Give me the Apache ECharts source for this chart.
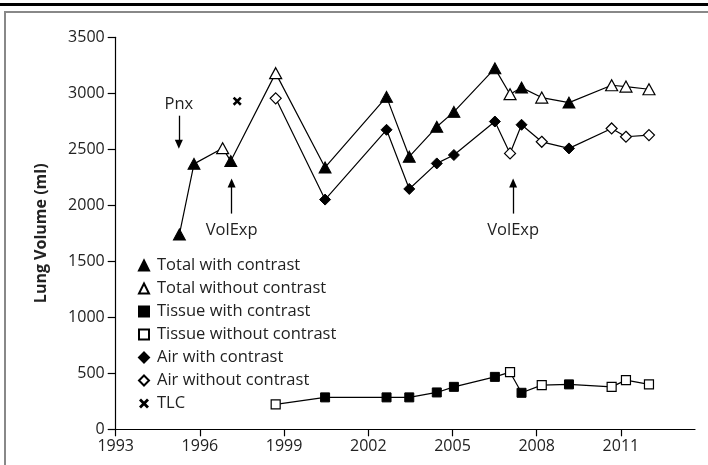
<!DOCTYPE html>
<html>
<head>
<meta charset="utf-8">
<script src="https://cdn.jsdelivr.net/npm/echarts@6/dist/echarts.min.js"></script>
<style>
  html, body { margin: 0; padding: 0; background: #fff; }
  #chart { width: 708px; height: 465px; }
</style>
</head>
<body>
<div id="chart"></div>
<script>
// scan dates (decimal years) and whether contrast was given
var years    = [1995.27, 1995.79, 1996.81, 1997.10, 1998.70, 2000.46, 2002.65, 2003.46, 2004.44, 2005.05, 2006.51, 2007.05, 2007.46, 2008.18, 2009.15, 2010.67, 2011.18, 2012.00];
var contrast = [1, 1, 0, 1, 0, 1, 1, 1, 1, 1, 1, 0, 1, 0, 1, 0, 0, 0];
var total    = [1740, 2370, 2510, 2395, 3180, 2338, 2968, 2434, 2701, 2834, 3223, 2992, 3051, 2962, 2917, 3072, 3060, 3036];
var tissue   = [null, null, null, null, 223, 285, 285, 285, 329, 379, 468, 510, 326, 394, 401, 379, 439, 401];
var air      = [null, null, null, null, 2955, 2051, 2674, 2146, 2374, 2449, 2748, 2463, 2719, 2567, 2508, 2686, 2612, 2627];
var tlc      = [[1997.33, 2930]];

// arrows: label, year, arrow tail value, arrow head value
var notes = [
  ['Pnx', 1995.25, 2800, 2545],
  ['VolExp', 1997.13, 1926, 2198],
  ['VolExp', 2007.16, 1926, 2198]
];

var FONT = 'Open Sans';

function pairs(vals, want) {
  var out = [];
  for (var i = 0; i < years.length; i++) {
    if (vals[i] == null) continue;
    if (want === undefined || contrast[i] === want) out.push([years[i], vals[i]]);
  }
  return out;
}

var xCross = 'path://M0,2 L2,0 L5,3 L8,0 L10,2 L7,5 L10,8 L8,10 L5,7 L2,10 L0,8 L3,5 Z';

function lineSeries(vals) {
  return {
    type: 'line', data: pairs(vals), symbol: 'none', silent: true,
    lineStyle: { color: '#000', width: 1.2 }, z: 2
  };
}
function dotSeries(name, vals, want, symbol, size) {
  return {
    name: name, type: 'scatter', data: pairs(vals, want),
    symbol: symbol, symbolSize: size, z: 5,
    itemStyle: want ? { color: '#000', borderColor: '#000', borderWidth: 1, opacity: 1 }
                    : { color: '#fff', borderColor: '#000', borderWidth: 1.2, opacity: 1 }
  };
}

var arrowSeries = {
  type: 'line', data: [], silent: true,
  markLine: {
    silent: true, animation: false,
    symbol: ['none', 'triangle'], symbolSize: [8, 9],
    lineStyle: { color: '#000', width: 1.3, type: 'solid' },
    label: { show: true, position: 'start', distance: 4, color: '#222', fontFamily: FONT, fontSize: 16.5 },
    data: notes.map(function (n) {
      return [
        { coord: [n[1], n[2]], label: { formatter: n[0], distance: n[2] < n[3] ? 8 : 3 } },
        { coord: [n[1], n[3]] }
      ];
    })
  }
};

var chart = echarts.init(document.getElementById('chart'));
chart.setOption({
  animation: false,
  backgroundColor: '#fff',
  textStyle: { fontFamily: FONT },
  graphic: [
    { type: 'rect', shape: { x: 0, y: 3, width: 708, height: 3 }, style: { fill: '#000' } },
    { type: 'rect', shape: { x: 4, y: 11, width: 704, height: 2 }, style: { fill: '#888' } },
    { type: 'rect', shape: { x: 4, y: 11, width: 2, height: 454 }, style: { fill: '#888' } }
  ],
  grid: { left: 115.7, right: 13, top: 37.3, bottom: 35.7 },
  legend: {
    orient: 'vertical', left: 133, top: 252,
    itemWidth: 10, itemHeight: 10, itemGap: 6,
    textStyle: { fontFamily: FONT, fontSize: 16.5, color: '#222', lineHeight: 17, padding: [0, 0, 0, 3] },
    data: ['Total with contrast', 'Total without contrast', 'Tissue with contrast',
           'Tissue without contrast', 'Air with contrast', 'Air without contrast', 'TLC']
  },
  xAxis: {
    type: 'value', min: 1993, max: 2013.64, interval: 3,
    splitLine: { show: false },
    axisLine: { lineStyle: { color: '#000', width: 1.2 } },
    axisTick: { length: 7, lineStyle: { color: '#000', width: 1.2 } },
    axisLabel: { color: '#222', fontSize: 16, fontFamily: FONT, margin: 9,
      showMaxLabel: false, formatter: function (v) { return String(v); } }
  },
  yAxis: {
    type: 'value', min: 0, max: 3500, interval: 500,
    name: 'Lung Volume (ml)', nameLocation: 'middle', nameGap: 66,
    nameTextStyle: { fontFamily: FONT, fontSize: 16, fontWeight: 'bold', color: '#222' },
    splitLine: { show: false },
    axisLine: { show: true, lineStyle: { color: '#000', width: 1.2 } },
    axisTick: { show: true, length: 8, lineStyle: { color: '#000', width: 1.2 } },
    axisLabel: { color: '#222', fontSize: 16, fontFamily: FONT, margin: 11,
      formatter: function (v) { return String(v); } }
  },
  series: [
    lineSeries(total),
    lineSeries(tissue),
    lineSeries(air),
    dotSeries('Total with contrast', total, 1, 'triangle', [12, 11]),
    dotSeries('Total without contrast', total, 0, 'triangle', [12, 11]),
    dotSeries('Tissue with contrast', tissue, 1, 'rect', 9),
    dotSeries('Tissue without contrast', tissue, 0, 'rect', 9),
    dotSeries('Air with contrast', air, 1, 'diamond', [11, 11]),
    dotSeries('Air without contrast', air, 0, 'diamond', [11, 11]),
    {
      name: 'TLC', type: 'scatter', data: tlc, symbol: xCross, symbolSize: 9, z: 5,
      itemStyle: { color: '#000', opacity: 1 }
    },
    arrowSeries
  ]
});
</script>
</body>
</html>
